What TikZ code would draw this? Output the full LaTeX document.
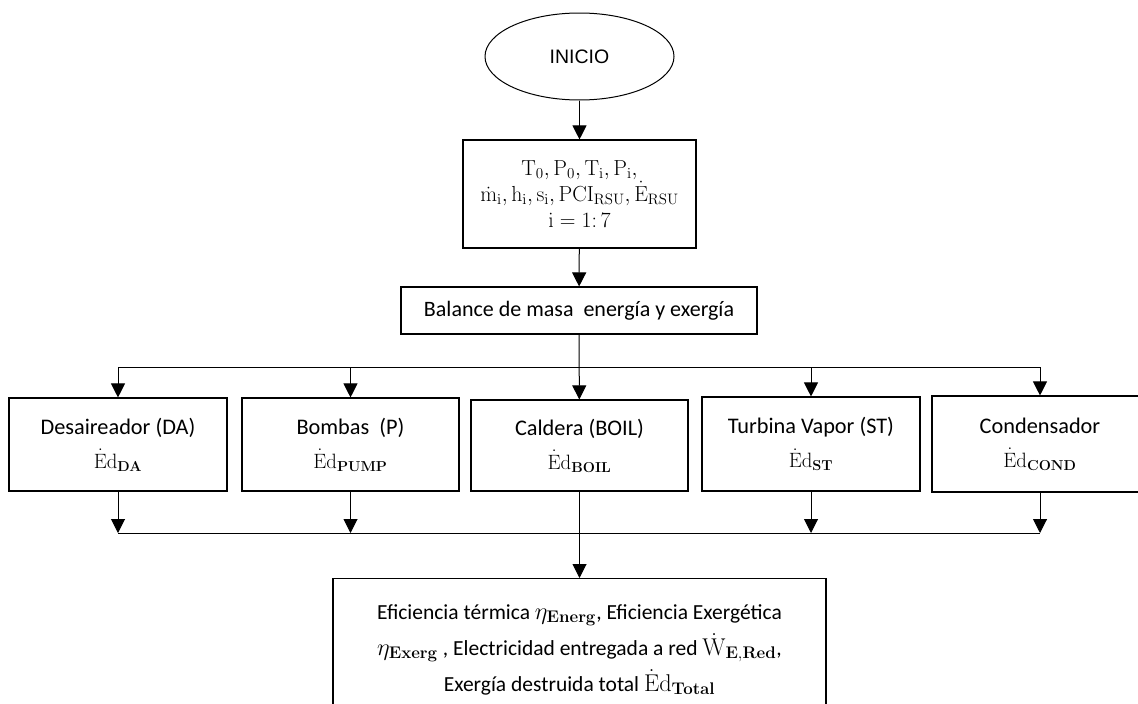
\documentclass[tikz,border=0pt]{standalone}
\usepackage{graphicx}
\usepackage[no-math]{fontspec}
\setmainfont{Carlito}
\newfontfamily\inicfont{Liberation Sans}
\usetikzlibrary{arrows.meta,shapes.geometric}
\tikzset{
  caja/.style={draw, line width=1.1pt, rectangle, align=center, inner sep=0pt},
  flecha/.style={line width=1pt, -{Triangle[width=14pt,length=14pt]}},
  linea/.style={line width=1pt},
}
\newcommand{\Edes}{\dot{\mathrm{E}}\mathrm{d}}
\newcommand{\mg}[2][1]{\scalebox{#1}{\fontsize{20.74}{30}\selectfont$#2$}}
\begin{document}
\begin{tikzpicture}[x=1pt,y=-1pt]
\clip (0,0) rectangle (1138,704);
\node[draw, ellipse, line width=1pt, inner sep=0pt, minimum width=189pt, minimum height=87pt, font=\inicfont\fontsize{19.5}{20}\selectfont] (inicio) at (579.5,56.5) {INICIO}; % INICIO
\node[caja, minimum width=233pt, minimum height=108pt, font=\fontsize{22}{26}\selectfont] (datos) at (579.5,194)
  {\mg[1.05]{\mathrm{T}_0, \mathrm{P}_0, \mathrm{T}_\mathrm{i}, \mathrm{P}_\mathrm{i},}\\
   \mg[1.05]{\dot{\mathrm{m}}_\mathrm{i}, \mathrm{h}_\mathrm{i}, \mathrm{s}_\mathrm{i}, \mathrm{PCI}_\mathrm{RSU}, \dot{\mathrm{E}}_\mathrm{RSU}}\\
   \mg[1.05]{\mathrm{i} = 1{:}\,7}}; % datos
\node[caja, minimum width=356pt, minimum height=47pt, font=\fontsize{22}{24}\selectfont] (bal) at (579,310.5) {Balance de masa\ \ energía y exergía}; % balance
\node[caja, minimum width=218pt, minimum height=93pt, font=\fontsize{22.3}{34}\selectfont] (da) at (118,444.5) {Desaireador (DA)\\ \mg{\Edes_{\mathbf{DA}}}}; % DA
\node[caja, minimum width=217pt, minimum height=93pt, font=\fontsize{22.3}{34}\selectfont] (pump) at (350.5,444.5) {Bombas\ \ (P)\\ \mg{\Edes_{\mathbf{PUMP}}}}; % P
\node[caja, minimum width=217pt, minimum height=91pt, font=\fontsize{22.3}{34}\selectfont] (boil) at (579.5,445.5) {Caldera (BOIL)\\ \mg{\Edes_{\mathbf{BOIL}}}}; % BOIL
\node[caja, minimum width=218pt, minimum height=94pt, font=\fontsize{22.3}{34}\selectfont] (st) at (811,444) {Turbina Vapor (ST)\\ \mg{\Edes_{\mathbf{ST}}}}; % ST
\node[caja, minimum width=216pt, minimum height=96pt, font=\fontsize{22.3}{34}\selectfont] (cond) at (1040,444) {Condensador\\ \mg{\Edes_{\mathbf{COND}}}}; % COND
\node[caja, minimum width=493pt, minimum height=142pt, anchor=north, font=\fontsize{21.5}{36}\selectfont] (res) at (579.5,578)
  {Eficiencia térmica \mg[1.17]{\eta_{\mathbf{Energ}}}, Eficiencia Exergética\\
   \mg[1.17]{\eta_{\mathbf{Exerg}}} , Electricidad entregada a red \mg[1.17]{\dot{\mathrm{W}}_{\mathbf{E,Red}}},\\
   Exergía destruida total \mg[1.17]{\Edes_{\mathbf{Total}}}}; % resultados
\coordinate (bus1) at (579.5,367);
\coordinate (bus2) at (579.5,533);
\draw[flecha] (inicio) -- (datos);
\draw[flecha] (datos) -- (bal);
\draw[flecha] (bal) -- (boil);
\draw[linea] (da.north |- bus1) -- (cond.north |- bus1);
\foreach \n in {da,pump,st,cond}
  \draw[flecha] (\n.north |- bus1) -- (\n.north);
\foreach \n in {da,pump,st,cond}
  \draw[flecha] (\n.south) -- (\n.south |- bus2);
\draw[linea] (da.south |- bus2) -- (cond.south |- bus2);
\draw[flecha] (boil) -- (res);
\end{tikzpicture}
\end{document}
